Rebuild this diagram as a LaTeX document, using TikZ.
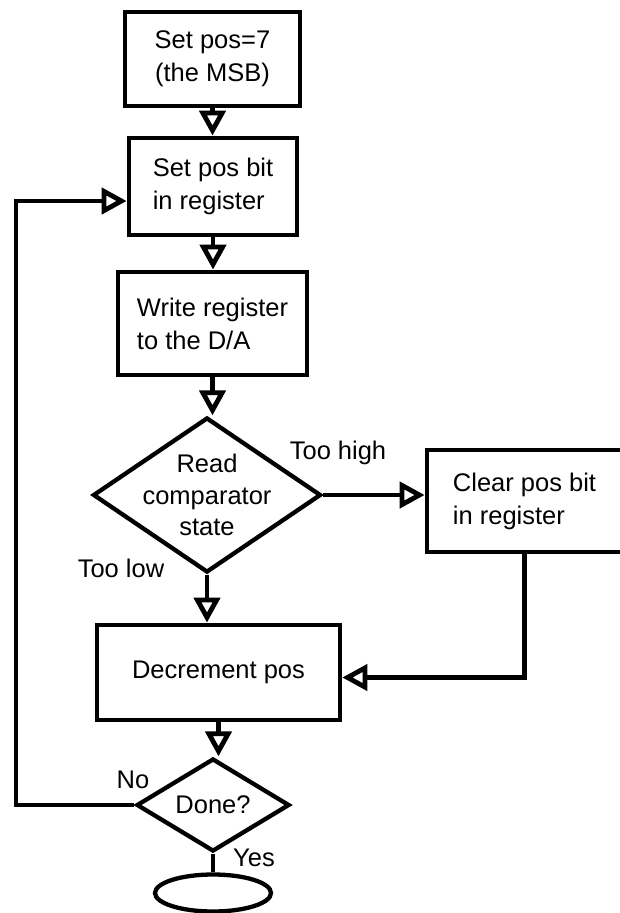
\documentclass[tikz,border=0pt]{standalone}
\usepackage{fontspec}
\setmainfont{Liberation Sans}
\usepackage{tikz}
\usetikzlibrary{arrows.meta,calc,positioning,shapes.geometric}
\definecolor{ink}{HTML}{000000}
\tikzset{
  every node/.style={font=\fontsize{25.5}{33}\selectfont,text=ink},
  stepbox/.style={draw=ink,line width=4.8pt,rectangle,align=left,inner sep=0pt},
  decision/.style={draw=ink,line width=4.3pt,diamond,inner sep=0pt},
  terminal/.style={draw=ink,line width=4.3pt,ellipse,inner sep=0pt},
  conn/.style={draw=ink,line width=4.8pt},
  flow/.style={conn,-{Triangle[open,length=25pt,width=26pt]}}
}
\begin{document}
\begin{tikzpicture}[x=1pt,y=-1pt]
  \useasboundingbox[fill=white] (0,0) rectangle (619,913);
  \node[stepbox,minimum width=175,minimum height=94,align=center] (start) at (212.5,59) {Set pos=7\\(the MSB)};
  \node[stepbox,minimum width=168,minimum height=97] (setbit) at (213,186.5) {Set pos bit\\in register};
  \node[stepbox,minimum width=189,minimum height=103] (write) at (212.5,323.5) {Write register\\to the D/A};
  \node[decision,minimum width=228,minimum height=155,
        label={[align=center,font=\fontsize{25.5}{31.5}\selectfont]center:{Read\\comparator\\state}}] (read) at (207,495) {};
  \node[stepbox,minimum width=195,minimum height=102] (clear) at (524.5,501) {Clear pos bit\\in register};
  \node[stepbox,minimum width=243,minimum height=95] (dec) at (218.5,672.5) {Decrement pos};
  \node[decision,minimum width=153,minimum height=93,label=center:{Done?}] (done) at (213,805) {};
  \node[terminal,minimum width=116,minimum height=37] (stop) at (213,893) {};
  % branch labels
  \node (toohigh) at (338,453) {Too high};
  \node (toolow) at (121,568) {Too low};
  \node (no) at (133,780) {No};
  \node (yes) at (254,858) {Yes};
  % connectors
  \draw[flow] (start.south) -- (start.south |- setbit.north);
  \draw[flow] (setbit.south) -- (setbit.south |- write.north);
  \draw[flow] (write.south) -- (write.south |- read.north);
  \draw[flow] (read.east) -- (read.east -| clear.west);
  \draw[flow] (read.south) -- (read.south |- dec.north);
  \draw[flow] (clear.south) |- ([yshift=-5pt]dec.east);
  \draw[flow] (dec.south) -- (dec.south |- done.north);
  \draw[conn] (done.south) -- (stop.north);
  \coordinate (loopbot) at (16,805);
  \coordinate (looptop) at (16,201);
  \draw[flow] (done.west) -- (loopbot) -- (looptop) -- (looptop -| setbit.west);
\end{tikzpicture}
\end{document}
